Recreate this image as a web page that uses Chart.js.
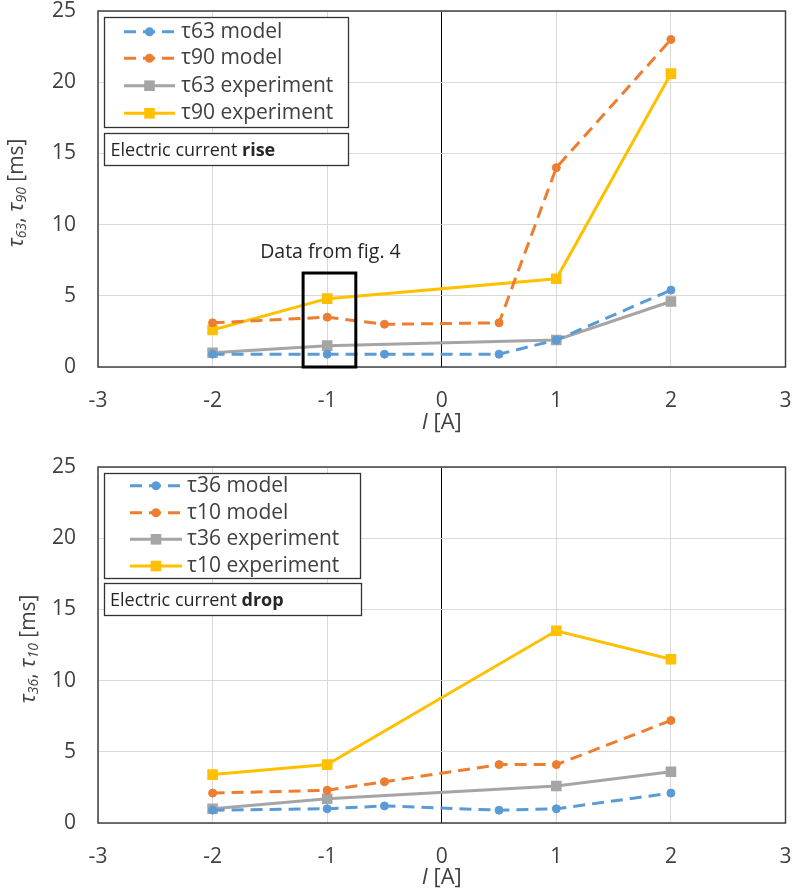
<!DOCTYPE html>
<html>
<head>
<meta charset="utf-8">
<script src="https://cdn.jsdelivr.net/npm/chart.js@4.4.0/dist/chart.umd.min.js"></script>
<style>
  body { margin: 0; background: #fff; }
  .wrap { position: absolute; left: 0; width: 793px; }
</style>
</head>
<body>
<div class="wrap" style="top:0;height:445px"><canvas id="rise"></canvas></div>
<div class="wrap" style="top:445px;height:446px"><canvas id="drop"></canvas></div>
<script>
// current values (x) for model and experiment series
const modelI = [-2, -1, -0.5, 0.5, 1, 2];
const expI = [-2, -1, 1, 2];
const xTicks = [-3, -2, -1, 0, 1, 2, 3];
const yTicks = [0, 5, 10, 15, 20, 25];

// current rise
const riseLabels = ["τ63 model", "τ90 model", "τ63 experiment", "τ90 experiment"];
const riseTau63Model = [0.9, 0.9, 0.9, 0.9, 1.9, 5.4];
const riseTau90Model = [3.1, 3.5, 3.0, 3.1, 14.0, 23.0];
const riseTau63Exp = [1.0, 1.5, 1.9, 4.6];
const riseTau90Exp = [2.6, 4.8, 6.2, 20.6];

// current drop
const dropLabels = ["τ36 model", "τ10 model", "τ36 experiment", "τ10 experiment"];
const dropTau36Model = [0.9, 1.0, 1.2, 0.9, 1.0, 2.1];
const dropTau10Model = [2.1, 2.3, 2.9, 4.1, 4.1, 7.2];
const dropTau36Exp = [1.0, 1.7, 2.6, 3.6];
const dropTau10Exp = [3.4, 4.1, 13.5, 11.5];

// "Data from fig. 4" box, in data units
const fig4BoxX = [-1.21, -0.75];
const fig4BoxY = [0, 6.6];

const FONT = "'Open Sans', 'Noto Sans', sans-serif";
const TEXT = "#404040";
const BLUE = "#5B9BD5", ORANGE = "#ED7D31", GRAY = "#A5A5A5", GOLD = "#FFC000";

const pts = (xs, ys) => xs.map((x, i) => ({ x: x, y: ys[i] }));

function modelSet(label, xs, ys, color) {
  return {
    label: label, data: pts(xs, ys), borderColor: color, backgroundColor: color,
    borderWidth: 3, borderDash: [12, 7], pointStyle: "circle", pointRadius: 4,
    pointBorderWidth: 1, tension: 0
  };
}
function expSet(label, xs, ys, color) {
  return {
    label: label, data: pts(xs, ys), borderColor: color, backgroundColor: color,
    borderWidth: 3, pointStyle: "rect", pointRadius: 7.5, pointBorderWidth: 0, tension: 0
  };
}

function fontOf(p) {
  return (p.italic ? "italic " : "") + (p.bold ? "bold " : "") + p.size + "px " + FONT;
}
function richText(ctx, parts, x, y, center) {
  let w = 0;
  parts.forEach(p => { ctx.font = fontOf(p); p.w = ctx.measureText(p.t).width; w += p.w; });
  let cx = center ? x - w / 2 : x;
  parts.forEach(p => { ctx.font = fontOf(p); ctx.fillText(p.t, cx, y + (p.dy || 0)); cx += p.w; });
}

const decorPlugin = {
  id: "decor",
  afterDatasetsDraw(chart, args, o) {
    const ctx = chart.ctx, a = chart.chartArea;
    ctx.save();
    // plot frame
    ctx.strokeStyle = "#404040";
    ctx.lineWidth = 1.5;
    ctx.strokeRect(a.left, a.top, a.right - a.left, a.bottom - a.top);

    // legend box
    const L = o.legend;
    ctx.fillStyle = "#fff";
    ctx.fillRect(L.box[0], L.box[1], L.box[2], L.box[3]);
    ctx.strokeStyle = "#333";
    ctx.lineWidth = 1.3;
    ctx.strokeRect(L.box[0] + 0.5, L.box[1] + 0.5, L.box[2], L.box[3]);
    chart.data.datasets.forEach((ds, i) => {
      const y = L.rows[i];
      ctx.strokeStyle = ds.borderColor;
      ctx.lineWidth = 3;
      ctx.setLineDash(ds.borderDash || []);
      ctx.beginPath();
      ctx.moveTo(L.x1, y);
      ctx.lineTo(L.x2, y);
      ctx.stroke();
      ctx.setLineDash([]);
      ctx.fillStyle = ds.backgroundColor;
      const mx = (L.x1 + L.x2) / 2;
      ctx.beginPath();
      if (ds.pointStyle === "rect") {
        const s = ds.pointRadius * Math.SQRT1_2;
        ctx.rect(mx - s, y - s, 2 * s, 2 * s);
      } else {
        ctx.arc(mx, y, ds.pointRadius + 0.5, 0, Math.PI * 2);
      }
      ctx.fill();
      ctx.fillStyle = TEXT;
      ctx.textBaseline = "middle";
      ctx.font = "21px " + FONT;
      ctx.fillText(ds.label, L.textX, y);
    });

    // note box
    const N = o.note;
    ctx.fillStyle = "#fff";
    ctx.fillRect(N.box[0], N.box[1], N.box[2], N.box[3]);
    ctx.strokeStyle = "#333";
    ctx.lineWidth = 1.3;
    ctx.strokeRect(N.box[0] + 0.5, N.box[1] + 0.5, N.box[2], N.box[3]);
    ctx.fillStyle = "#262626";
    ctx.textBaseline = "alphabetic";
    richText(ctx, [{ t: "Electric current ", size: 18 }, { t: N.word, size: 18, bold: true }], N.x, N.y, false);

    // fig. 4 marker box
    if (o.fig4) {
      const xs = chart.scales.x, ys = chart.scales.y;
      const x0 = xs.getPixelForValue(fig4BoxX[0]), x1 = xs.getPixelForValue(fig4BoxX[1]);
      const y0 = ys.getPixelForValue(fig4BoxY[1]), y1 = ys.getPixelForValue(fig4BoxY[0]);
      ctx.strokeStyle = "#000";
      ctx.lineWidth = 3;
      ctx.strokeRect(x0, y0, x1 - x0, y1 - y0);
      ctx.fillStyle = "#262626";
      ctx.textAlign = "center";
      ctx.font = "19.5px " + FONT;
      ctx.fillText("Data from fig. 4", (x0 + x1) / 2 + 1, y0 - 15);
      ctx.textAlign = "left";
    }

    // axis titles
    ctx.fillStyle = TEXT;
    ctx.textBaseline = "middle";
    richText(ctx, [{ t: "I", size: 22, italic: true }, { t: " [A]", size: 22 }],
      (a.left + a.right) / 2, a.bottom + o.xTitleDy, true);
    ctx.translate(o.yTitleX, (a.top + a.bottom) / 2 + 4);
    ctx.rotate(-Math.PI / 2);
    richText(ctx, [
      { t: "τ", size: 22, italic: true },
      { t: o.sub1, size: 14, italic: true, dy: 5 },
      { t: ", ", size: 21 },
      { t: "τ", size: 22, italic: true },
      { t: o.sub2, size: 14, italic: true, dy: 5 },
      { t: " [ms]", size: 21 }
    ], 0, 0, true);
    ctx.restore();
  }
};

function makeChart(id, labels, series, opts, canvasH, plotTop, plotBottom) {
  return new Chart(document.getElementById(id), {
    type: "line",
    data: {
      datasets: [
        modelSet(labels[0], modelI, series[0], BLUE),
        modelSet(labels[1], modelI, series[1], ORANGE),
        expSet(labels[2], expI, series[2], GRAY),
        expSet(labels[3], expI, series[3], GOLD)
      ]
    },
    options: {
      responsive: true,
      maintainAspectRatio: false,
      animation: false,
      layout: { padding: { top: plotTop, right: 5, left: 0, bottom: 0 } },
      plugins: { legend: { display: false }, tooltip: { enabled: false }, decor: opts },
      scales: {
        x: {
          type: "linear", min: -3, max: 3,
          afterBuildTicks: s => { s.ticks = xTicks.map(v => ({ value: v })); },
          afterFit: s => { s.height = canvasH - plotBottom; s.paddingLeft = 0; s.paddingRight = 0; },
          ticks: { color: TEXT, font: { family: FONT, size: 21 }, padding: 21, maxRotation: 0 },
          grid: { color: c => c.tick && c.tick.value === 0 ? "#000" : "#d9d9d9", lineWidth: 1, drawTicks: false },
          border: { display: false }
        },
        y: {
          min: 0, max: 25,
          afterBuildTicks: s => { s.ticks = yTicks.map(v => ({ value: v })); },
          afterFit: s => { s.width = 98; s.paddingTop = 0; s.paddingBottom = 0; },
          ticks: { color: TEXT, font: { family: FONT, size: 21 }, padding: 22 },
          grid: { color: "#d9d9d9", lineWidth: 1, drawTicks: false },
          border: { display: false }
        }
      }
    },
    plugins: [decorPlugin]
  });
}

makeChart("rise", riseLabels, [riseTau63Model, riseTau90Model, riseTau63Exp, riseTau90Exp], {
  legend: { box: [104, 17, 244, 110], rows: [31.7, 58.3, 85.7, 113.3], x1: 124, x2: 175, textX: 181 },
  note: { box: [104, 133, 244, 32], x: 110.5, y: 156, word: "rise" },
  fig4: true, xTitleDy: 56, yTitleX: 17, sub1: "63", sub2: "90"
}, 445, 11, 367);

makeChart("drop", dropLabels, [dropTau36Model, dropTau10Model, dropTau36Exp, dropTau10Exp], {
  legend: { box: [104, 28, 256, 105], rows: [40.7, 67.7, 94.3, 121], x1: 130, x2: 182, textX: 187 },
  note: { box: [104, 138, 257, 32], x: 110, y: 161, word: "drop" },
  fig4: false, xTitleDy: 55, yTitleX: 29, sub1: "36", sub2: "10"
}, 446, 22, 378);
</script>
</body>
</html>
